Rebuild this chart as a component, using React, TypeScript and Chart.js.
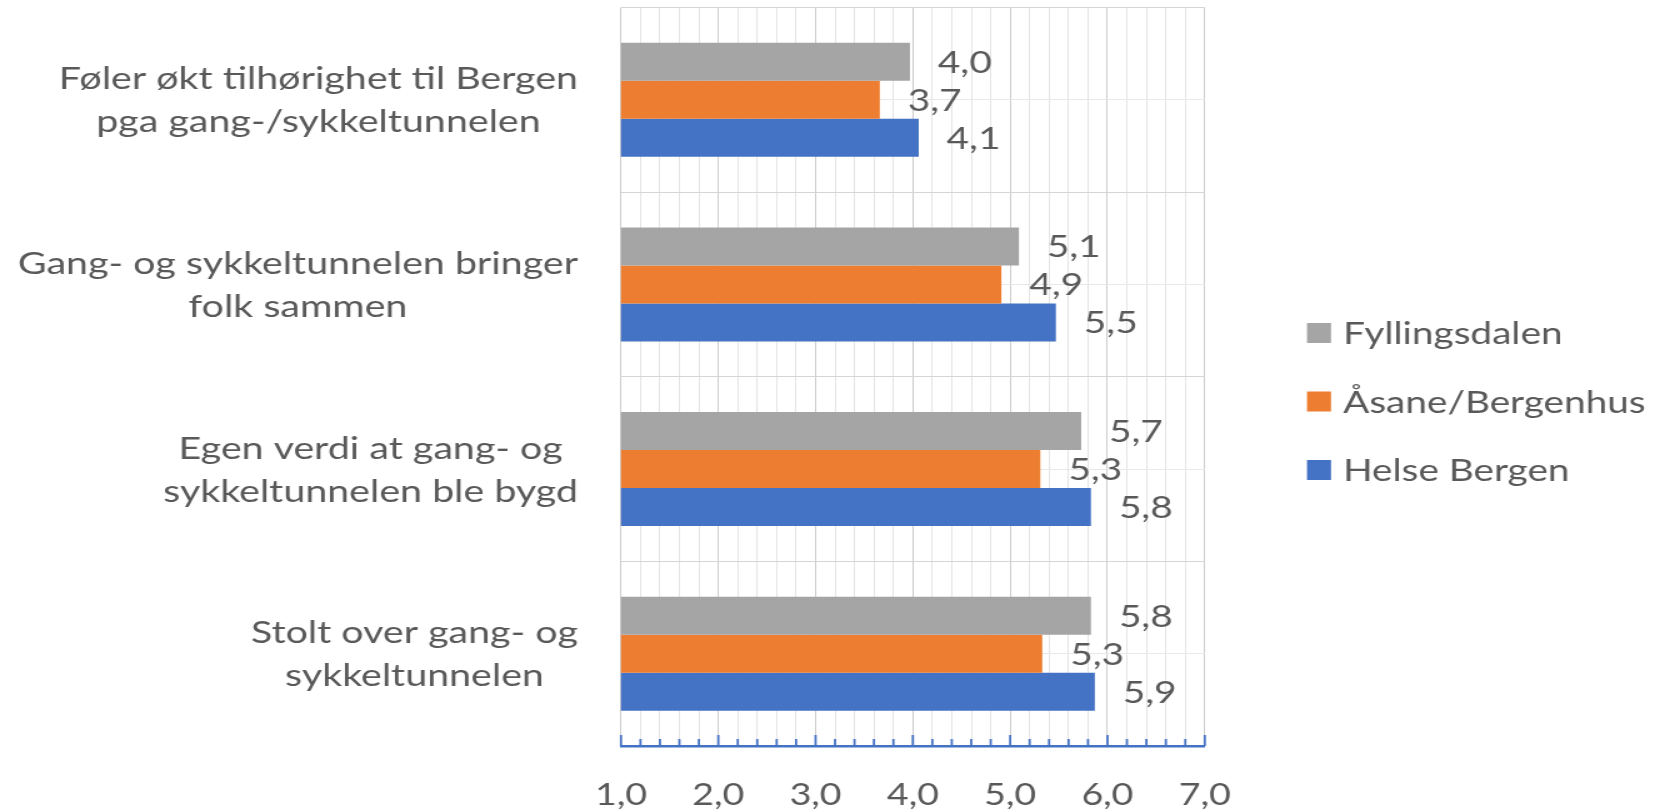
import React, { useEffect, useRef } from "react";
import { Chart, registerables } from "chart.js";

Chart.register(...registerables);

// ---------- data ----------
const categories: string[][] = [
  ["Føler økt tilhørighet til Bergen", "pga gang-/sykkeltunnelen"],
  ["Gang- og sykkeltunnelen bringer", "folk sammen"],
  ["Egen verdi at gang- og", "sykkeltunnelen ble bygd"],
  ["Stolt over gang- og", "sykkeltunnelen"],
];
const seriesNames = ["Fyllingsdalen", "Åsane/Bergenhus", "Helse Bergen"];
const fyllingsdalen = [3.97, 5.09, 5.73, 5.83];
const asaneBergenhus = [3.66, 4.91, 5.31, 5.33];
const helseBergen = [4.06, 5.47, 5.83, 5.87];
const seriesColors = ["#A5A5A5", "#ED7D31", "#4472C4"];
const xMin = 1;
const xMax = 7;
const xStep = 0.2;

// ---------- layout / style ----------
const W = 1655;
const H = 811;
const STRETCH = 1.25;
const IW = W / STRETCH;
const FONT = "Lato, 'Open Sans', sans-serif";
const TEXT = "#595959";
const AXIS_BLUE = "#4472C4";

const fmt = (v: number) => v.toFixed(1).replace(".", ",");
const isMajor = (v: number) => Math.abs(v - Math.round(v)) < 1e-6;

const tickMarks = {
  id: "tickMarks",
  afterDraw(chart: any) {
    const xs = chart.scales.x;
    const ctx = chart.ctx;
    const b = chart.chartArea.bottom;
    ctx.save();
    ctx.strokeStyle = AXIS_BLUE;
    ctx.lineWidth = 1.8;
    xs.ticks.forEach((t: any, i: number) => {
      const px = xs.getPixelForTick(i);
      ctx.beginPath();
      ctx.moveTo(px, b);
      ctx.lineTo(px, b - (isMajor(t.value) ? 11 : 7));
      ctx.stroke();
    });
    ctx.restore();
  },
};

const valueLabels = {
  id: "valueLabels",
  afterDatasetsDraw(chart: any) {
    const ctx = chart.ctx;
    ctx.save();
    ctx.font = `31px ${FONT}`;
    ctx.fillStyle = TEXT;
    ctx.textAlign = "left";
    ctx.textBaseline = "middle";
    chart.data.datasets.forEach((ds: any, di: number) => {
      chart.getDatasetMeta(di).data.forEach((el: any, i: number) => {
        ctx.fillText(fmt(ds.data[i]), el.x + 22.4, el.y + 1);
      });
    });
    ctx.restore();
  },
};

const categoryLabels = {
  id: "categoryLabels",
  afterDraw(chart: any) {
    const ys = chart.scales.y;
    const ctx = chart.ctx;
    const right = chart.chartArea.left - 34.4;
    ctx.save();
    ctx.font = `31.5px ${FONT}`;
    ctx.fillStyle = TEXT;
    ctx.textAlign = "center";
    ctx.textBaseline = "middle";
    (chart.data.labels as string[][]).forEach((lines, i) => {
      const cy = ys.getPixelForTick(i);
      const bw = Math.max(...lines.map((l) => ctx.measureText(l).width));
      const cx = right - bw / 2;
      lines.forEach((l, j) => {
        ctx.fillText(l, cx, cy + 1 + (j - (lines.length - 1) / 2) * 43);
      });
    });
    ctx.restore();
  },
};

const sideLegend = {
  id: "sideLegend",
  afterDraw(chart: any) {
    const ctx = chart.ctx;
    const x0 = chart.chartArea.right + 81.8;
    ctx.save();
    ctx.font = `31px ${FONT}`;
    ctx.textBaseline = "middle";
    ctx.textAlign = "left";
    chart.data.datasets.forEach((ds: any, i: number) => {
      const cy = chart.height / 2 - 4 + (i - 1) * 68.5;
      ctx.fillStyle = ds.backgroundColor;
      ctx.fillRect(x0, cy - 10, 19.2, 20);
      ctx.fillStyle = TEXT;
      ctx.fillText(ds.label, x0 + 28.8, cy + 1);
    });
    ctx.restore();
  },
};

export default function App() {
  const ref = useRef<HTMLCanvasElement | null>(null);

  useEffect(() => {
    if (!ref.current) return;
    const values = [fyllingsdalen, asaneBergenhus, helseBergen];
    const chart = new Chart(ref.current, {
      type: "bar",
      data: {
        labels: categories as any,
        datasets: seriesNames.map((name, i) => ({
          label: name,
          data: values[i],
          backgroundColor: seriesColors[i],
          borderWidth: 0,
          categoryPercentage: 0.618,
          barPercentage: 1,
        })),
      },
      options: {
        indexAxis: "y",
        responsive: false,
        animation: false,
        devicePixelRatio: 1,
        layout: { padding: { left: 0, top: 7.5, right: IW - 963.8, bottom: 0 } },
        plugins: {
          legend: { display: false },
          tooltip: { enabled: false },
          title: { display: false },
        },
        scales: {
          x: {
            type: "linear",
            position: "bottom",
            min: xMin,
            max: xMax,
            beginAtZero: false,
            ticks: {
              stepSize: xStep,
              autoSkip: false,
              maxRotation: 0,
              minRotation: 0,
              padding: 31,
              color: TEXT,
              font: { family: FONT, size: 30 },
              callback: (v: any) => (isMajor(Number(v)) ? fmt(Number(v)) : ""),
            },
            grid: {
              color: (c: any) => (c.tick && isMajor(c.tick.value) ? "#cccccc" : "#e4e4e4"),
              lineWidth: 1,
              drawTicks: false,
            },
            border: { display: true, color: AXIS_BLUE, width: 2.5 },
            afterFit: (s: any) => {
              s.height = 65;
            },
          },
          y: {
            type: "category",
            position: "left",
            offset: true,
            grid: { offset: true, color: "#d5d5d5", drawTicks: false },
            border: { display: false },
            ticks: { display: false },
            afterFit: (s: any) => {
              s.width = 496.8;
            },
          },
          y2: {
            type: "category",
            position: "right",
            offset: true,
            grid: { offset: false, color: "#e8e8e8", drawTicks: false },
            border: { display: false },
            ticks: { display: false },
            afterFit: (s: any) => {
              s.width = 0;
            },
          },
        },
      } as any,
      plugins: [tickMarks, valueLabels, categoryLabels, sideLegend],
    });
    return () => chart.destroy();
  }, []);

  return (
    <div
      style={{
        position: "fixed",
        left: 0,
        top: 0,
        width: W,
        height: H,
        background: "#ffffff",
        overflow: "hidden",
      }}
    >
      <canvas
        ref={ref}
        width={IW}
        height={H}
        style={{ width: `${W}px`, height: `${H}px`, display: "block" }}
      />
    </div>
  );
}
